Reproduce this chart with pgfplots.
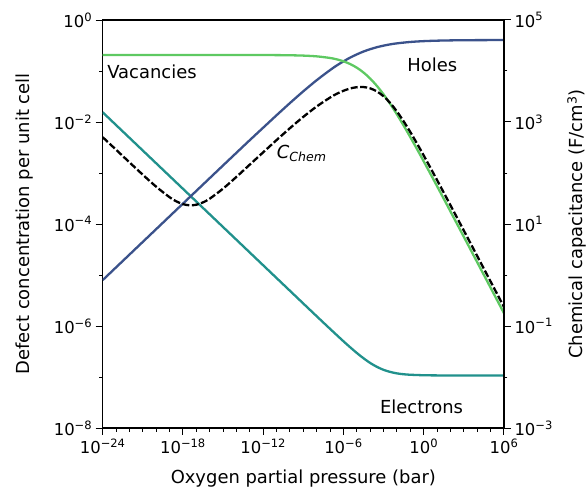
\documentclass[border=0pt]{standalone}
\usepackage{pgfplots}
\pgfplotsset{compat=1.18}
\usepackage{fontspec}
\setmainfont{DejaVu Sans}
\definecolor{choles}{HTML}{3B528B}
\definecolor{celec}{HTML}{21918C}
\definecolor{cvac}{HTML}{5EC962}
\newcommand{\tl}[1]{10\textsuperscript{#1}}
\newcommand{\tfont}{\fontsize{16.5}{19}\selectfont}
\newcommand{\lfont}{\fontsize{18}{21}\selectfont}

\begin{document}
\begin{tikzpicture}
\useasboundingbox (-102.7bp,-62bp) rectangle (485.3bp,428bp);
\begin{axis}[
  scale only axis, width=401.3bp, height=408bp, at={(0,0)}, anchor=south west,
  xmode=log, ymode=log, xmin=1e-24, xmax=1e6, ymin=1e-8, ymax=1,
  xtick={1e-24,1e-18,1e-12,1e-6,1,1e6},
  xticklabels={\tl{−24},\tl{−18},\tl{−12},\tl{−6},\tl{0},\tl{6}},
  minor xtick={1e-23,1e-22,1e-21,1e-20,1e-19,1e-17,1e-16,1e-15,1e-14,1e-13,1e-11,1e-10,1e-9,1e-8,1e-7,1e-5,1e-4,1e-3,1e-2,1e-1,10,100,1000,1e4,1e5},
  ytick={1e-8,1e-6,1e-4,1e-2,1},
  yticklabels={\tl{−8},\tl{−6},\tl{−4},\tl{−2},\tl{0}},
  minor ytick={1e-7,1e-5,1e-3,1e-1},
  tick pos=left, tick align=outside,
  major tick length=7bp, minor tick length=3.5bp,
  tick style={black, line width=1bp},
  axis line style={line width=1.2bp},
  tick label style={font=\tfont},
  label style={font=\lfont},
  xlabel={Oxygen partial pressure (bar)},
  ylabel={Defect concentration per unit cell},
  xlabel style={at={(axis description cs:0.5,-0.1363)}, anchor=base},
  ylabel style={at={(axis description cs:-0.1817,0.5)}, anchor=base},
  every axis plot/.append style={line width=2.3bp, smooth},
]
\addplot[celec] coordinates {
(1e-24,0.01549) (1e-23,8.71e-3) (1e-22,4.90e-3) (1e-21,2.754e-3) (1e-20,1.549e-3)
(1e-19,8.71e-4) (1e-18,4.90e-4) (1e-17,2.754e-4) (1e-16,1.549e-4) (1e-15,8.71e-5)
(1e-14,4.90e-5) (1e-13,2.754e-5) (1e-12,1.549e-5) (1e-11,8.71e-6) (1e-10,4.90e-6)
(1e-9,2.756e-6) (1e-8,1.552e-6) (1e-7,8.78e-7) (1e-6,5.013e-7) (3.162e-6,3.83e-7)
(1e-5,2.956e-7) (3.162e-5,2.328e-7) (1e-4,1.883e-7) (3.162e-4,1.581e-7) (1e-3,1.381e-7)
(3.162e-3,1.256e-7) (1e-2,1.178e-7) (3.162e-2,1.132e-7) (1e-1,1.107e-7) (1,1.083e-7)
(10,1.075e-7) (100,1.073e-7) (1000,1.072e-7) (1e4,1.0715e-7) (1e5,1.0715e-7) (1e6,1.0715e-7)
};
\addplot[choles] coordinates {
(1e-24,7.94e-6) (1e-23,1.413e-5) (1e-22,2.512e-5) (1e-21,4.467e-5) (1e-20,7.94e-5)
(1e-19,1.413e-4) (1e-18,2.51e-4) (1e-17,4.46e-4) (1e-16,7.93e-4) (1e-15,1.408e-3)
(1e-14,2.496e-3) (1e-13,4.418e-3) (1e-12,7.75e-3) (1e-11,0.01358) (1e-10,0.02354)
(1e-9,0.04004) (1e-8,0.0661) (1e-7,0.1043) (3.162e-7,0.1286) (1e-6,0.1545)
(3.162e-6,0.1833) (1e-5,0.2118) (3.162e-5,0.2411) (1e-4,0.2677) (3.162e-4,0.2930)
(1e-3,0.3143) (3.162e-3,0.3333) (1e-2,0.3485) (1e-1,0.3712) (1,0.3852)
(10,0.3936) (100,0.3985) (1000,0.4014) (1e4,0.4029) (1e5,0.4038) (1e6,0.4043)
};
\addplot[cvac] coordinates {
(1e-24,0.206) (1e-20,0.206) (1e-16,0.206) (1e-14,0.206) (1e-12,0.2056)
(1e-11,0.2049) (1e-10,0.2035) (1e-9,0.2004) (1e-8,0.1937) (1e-7,0.1801)
(3.162e-7,0.1692) (1e-6,0.1549) (3.162e-6,0.1370) (1e-5,0.1160) (3.162e-5,0.09333)
(1e-4,0.07099) (3.162e-4,0.05096) (1e-3,0.03467) (3.162e-3,0.02250) (1e-2,0.01404)
(3.162e-2,8.50e-3) (1e-1,5.036e-3) (3.162e-1,2.935e-3) (1,1.691e-3) (10,5.496e-4)
(100,1.760e-4) (1000,5.597e-5) (1e4,1.775e-5) (1e5,5.62e-6) (1e6,1.778e-6)
};
\node[anchor=base west, inner sep=0pt, font=\lfont] at (axis cs:2.14e-24,0.0697) {Vacancies};
\node[anchor=base west, inner sep=0pt, font=\lfont] at (axis cs:0.0582,0.0970) {Holes};
\node[anchor=base west, inner sep=0pt, font=\lfont] at (axis cs:5.31e-4,1.95e-8) {Electrons};
\node[anchor=base west, inner sep=0pt, font=\lfont] at (axis cs:1e-11,1.95e-3) {\textit{C}\textsubscript{\textit{Chem}}};
\end{axis}
\begin{axis}[
  scale only axis, width=401.3bp, height=408bp, at={(0,0)}, anchor=south west,
  xmode=log, ymode=log, xmin=1e-24, xmax=1e6, ymin=1e-3, ymax=1e5,
  axis x line=none, axis y line*=right,
  ytick={1e-3,1e-1,10,1e3,1e5},
  yticklabels={\tl{−3},\tl{−1},\tl{1},\tl{3},\tl{5}},
  minor ytick={1e-2,1,100,1e4},
  tick align=outside,
  major tick length=7bp, minor tick length=3.5bp,
  tick style={black, line width=1bp},
  axis line style={line width=1.2bp},
  tick label style={font=\tfont},
  label style={font=\lfont},
  ylabel={Chemical capacitance (F/cm\textsuperscript{3})},
  ylabel style={at={(axis description cs:1.1968,0.5)}, anchor=base},
]
\addplot[black, line width=2.3bp, dash pattern=on 7bp off 2.5bp, smooth] coordinates {
(1e-24,503.8) (1e-23,285.8) (1e-22,162.1) (1e-21,92.37) (1e-20,53.81)
(1e-19,33.48) (3.162e-19,27.84) (1e-18,24.52) (3.162e-18,23.24) (1e-17,23.87)
(3.162e-17,26.53) (1e-16,31.35) (1e-15,49.42) (1e-14,84.02) (1e-13,146.4)
(1e-12,254.7) (1e-11,442.7) (1e-10,757.6) (1e-9,1263) (1e-8,2017)
(1e-7,3017) (3.162e-7,3579) (1e-6,4095) (3.162e-6,4548) (1e-5,4815)
(3.162e-5,4851) (1e-4,4563) (3.162e-4,3980) (1e-3,3186) (3.162e-3,2346)
(1e-2,1601.6) (3.162e-2,1029) (1e-1,632.6) (3.162e-1,377.1) (1,220.1)
(10,72.39) (100,23.27) (1000,7.409) (1e4,2.3506) (1e5,0.7443) (1e6,0.2355)
};
\end{axis}
\end{tikzpicture}
\end{document}
